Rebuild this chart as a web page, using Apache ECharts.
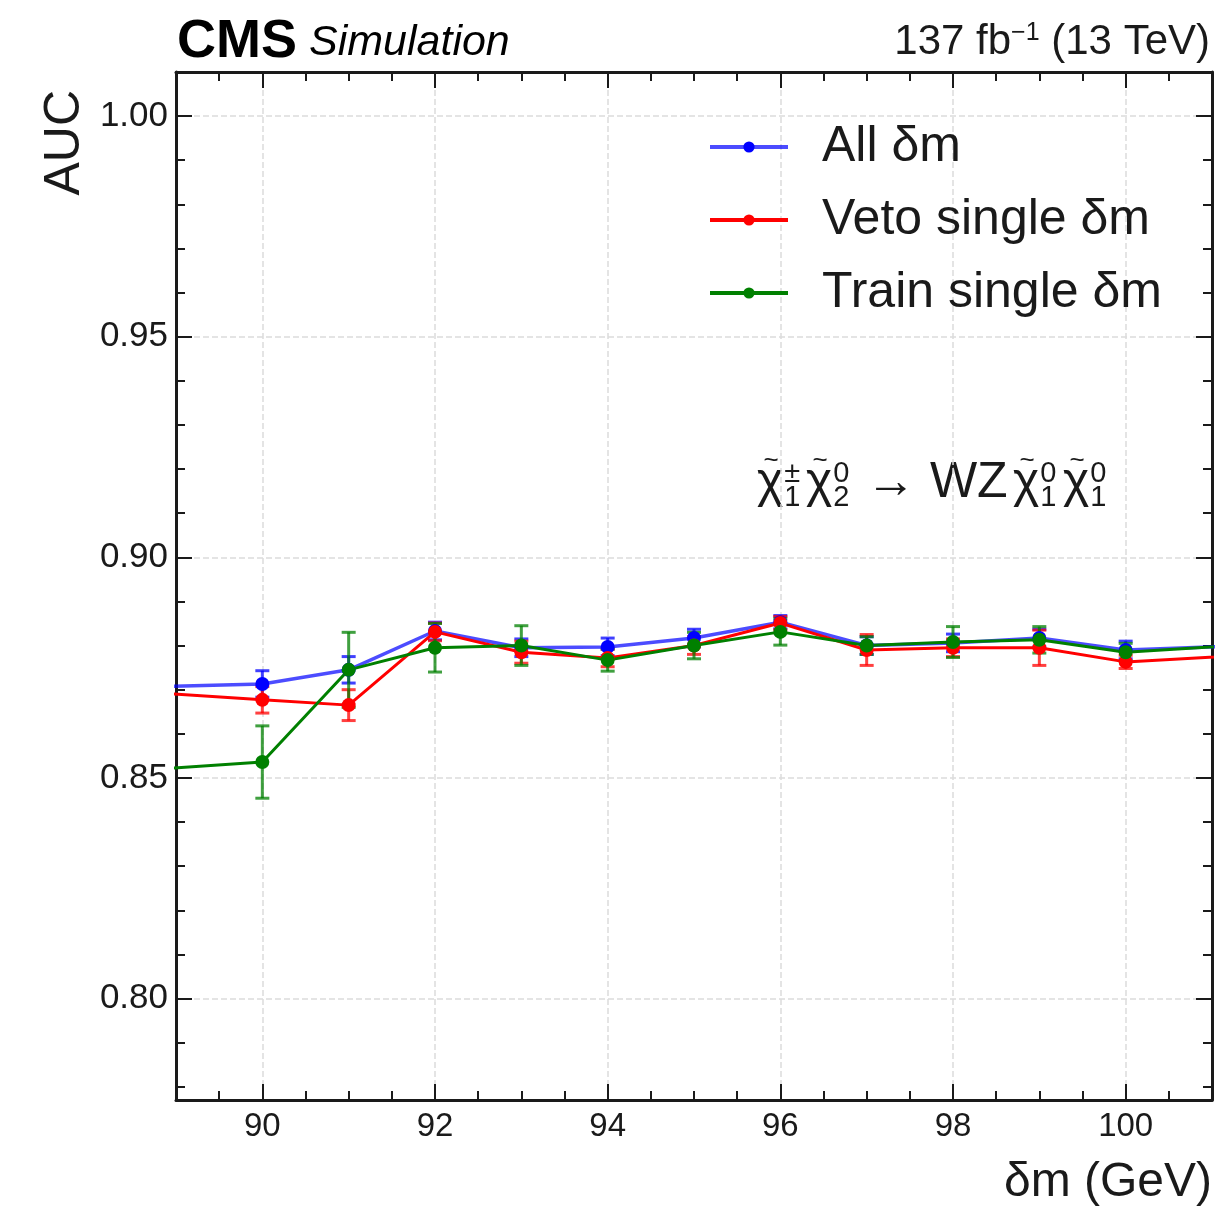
<!DOCTYPE html>
<html>
<head>
<meta charset="utf-8">
<script src="https://cdn.jsdelivr.net/npm/echarts@6/dist/echarts.min.js"></script>
<style>
html, body { margin: 0; padding: 0; background: #fff; }
#chart { width: 1215px; height: 1208px; }
</style>
</head>
<body>
<div id="chart"></div>
<script>
// delta m points (88 and 102 lie outside the view, only their line segments show)
const deltaM = [88, 90, 91, 92, 93, 94, 95, 96, 97, 98, 99, 100, 102];

const aucAll   = [0.8703, 0.8713, 0.8745, 0.8833, 0.8795, 0.8797, 0.8817, 0.8853, 0.8800, 0.8806, 0.8817, 0.8790, 0.8804];
const aucVeto  = [0.8703, 0.8677, 0.8665, 0.8831, 0.8785, 0.8772, 0.8800, 0.8851, 0.8790, 0.8795, 0.8795, 0.8763, 0.8785];
const aucTrain = [0.8510, 0.8536, 0.8745, 0.8795, 0.8800, 0.8767, 0.8800, 0.8831, 0.8800, 0.8808, 0.8813, 0.8785, 0.8809];

const errAll   = [null, 0.0030, 0.0030, 0.0020, 0.0020, 0.0020, 0.0020, 0.0015, 0.0020, 0.0020, 0.0020, 0.0020, null];
const errVeto  = [null, 0.0030, 0.0035, 0.0020, 0.0025, 0.0020, 0.0020, 0.0015, 0.0035, 0.0020, 0.0040, 0.0015, null];
const errTrain = [null, 0.0082, 0.0085, 0.0055, 0.0045, 0.0025, 0.0030, 0.0030, 0.0020, 0.0035, 0.0030, 0.0020, null];

const xMajorTicks = [90, 92, 94, 96, 98, 100];
const yMajorTicks = [0.80, 0.85, 0.90, 0.95, 1.00];

const xRange = [89, 101];
const yRange = [0.777, 1.01];

const FONT = '"Liberation Sans", Arial, Helvetica, sans-serif';
const INK = '#1a1a1a';

// minor ticks: x every 0.5, y every 0.01, skipping the major ones
function minorTicks(lo, hi, step, majors) {
  const out = [];
  const n = Math.round((hi - lo) / step);
  for (let i = 0; i <= n; i++) {
    const v = +(lo + i * step).toFixed(4);
    if (v <= lo || v >= hi) continue;
    if (majors.some(m => Math.abs(m - v) < 1e-6)) continue;
    out.push(v);
  }
  return out;
}
const xMinorTicks = minorTicks(xRange[0], xRange[1], 0.5, xMajorTicks);
const yMinorTicks = minorTicks(0.77, 1.01, 0.01, yMajorTicks);

function axisCommon(range, ticks, tickLen, showLine) {
  return {
    type: 'value',
    min: range[0],
    max: range[1],
    axisLine: { show: showLine, onZero: false, lineStyle: { color: INK, width: 3 } },
    axisTick: { show: true, inside: true, length: tickLen, customValues: ticks, lineStyle: { color: INK, width: 2 } },
    axisLabel: { show: false },
    splitLine: { show: false }
  };
}

const xAxes = [
  Object.assign(axisCommon(xRange, xMajorTicks, 16, true), {
    position: 'bottom',
    axisLabel: {
      show: true, customValues: xMajorTicks, margin: 10,
      fontSize: 33, fontFamily: FONT, color: INK,
      formatter: v => String(Math.round(v))
    },
    splitLine: { show: true, lineStyle: { color: '#dcdcdc', width: 1.5, type: 'dashed' } }
  }),
  Object.assign(axisCommon(xRange, xMinorTicks, 9, false), { position: 'bottom' }),
  Object.assign(axisCommon(xRange, xMajorTicks, 16, true), { position: 'top' }),
  Object.assign(axisCommon(xRange, xMinorTicks, 9, false), { position: 'top' })
];

const yAxes = [
  Object.assign(axisCommon(yRange, yMajorTicks, 16, true), {
    position: 'left',
    axisLabel: {
      show: true, customValues: yMajorTicks, margin: 8,
      fontSize: 35, fontFamily: FONT, color: INK,
      formatter: v => v.toFixed(2)
    },
    splitLine: { show: true, lineStyle: { color: '#dcdcdc', width: 1.5, type: 'dashed' } }
  }),
  Object.assign(axisCommon(yRange, yMinorTicks, 9, false), { position: 'left' }),
  Object.assign(axisCommon(yRange, yMajorTicks, 16, true), { position: 'right' }),
  Object.assign(axisCommon(yRange, yMinorTicks, 9, false), { position: 'right' })
];

function lineSeries(name, values, color, lineColor, width) {
  return {
    type: 'line',
    name: name,
    xAxisIndex: 0,
    yAxisIndex: 0,
    data: deltaM.map((x, i) => [x, values[i]]),
    symbol: 'circle',
    symbolSize: 14,
    clip: true,
    itemStyle: { color: color },
    lineStyle: { color: lineColor, width: width },
    emphasis: { disabled: true }
  };
}

function errorSeries(name, values, errs, color) {
  const data = [];
  deltaM.forEach((x, i) => {
    if (errs[i] != null) data.push([x, values[i] - errs[i], values[i] + errs[i]]);
  });
  return {
    type: 'custom',
    name: name,
    xAxisIndex: 0,
    yAxisIndex: 0,
    clip: true,
    silent: true,
    encode: { x: 0, y: [1, 2] },
    data: data,
    renderItem: (params, api) => {
      const lo = api.coord([api.value(0), api.value(1)]);
      const hi = api.coord([api.value(0), api.value(2)]);
      const cap = 7;
      const style = { stroke: color, lineWidth: 3 };
      return {
        type: 'group',
        children: [
          { type: 'line', shape: { x1: lo[0], y1: lo[1], x2: hi[0], y2: hi[1] }, style: style },
          { type: 'line', shape: { x1: lo[0] - cap, y1: lo[1], x2: lo[0] + cap, y2: lo[1] }, style: style },
          { type: 'line', shape: { x1: hi[0] - cap, y1: hi[1], x2: hi[0] + cap, y2: hi[1] }, style: style }
        ]
      };
    }
  };
}

// process label pieces: base glyph (tilde on top when neutralino/chargino) with stacked sup / sub
const reaction = [
  { x: 757, base: 'χ', tilde: true, sup: '±', sub: '1' },
  { x: 806, base: 'χ', tilde: true, sup: '0', sub: '2' },
  { x: 866, base: '→ WZ' },
  { x: 1013, base: 'χ', tilde: true, sup: '0', sub: '1' },
  { x: 1063, base: 'χ', tilde: true, sup: '0', sub: '1' }
];

function reactionGraphics() {
  const out = [];
  const baseY = 508;
  const ctx = document.createElement('canvas').getContext('2d');
  ctx.font = '50px ' + FONT;
  reaction.forEach(p => {
    out.push({
      type: 'text', x: p.x, y: baseY,
      style: { text: p.base, font: '50px ' + FONT, fill: INK, align: 'left', verticalAlign: 'bottom' }
    });
    if (p.tilde) {
      const w = ctx.measureText(p.base).width;
      out.push({
        type: 'text', x: p.x + w / 2 + 1, y: 461,
        style: { text: '~', font: '26px ' + FONT, fill: INK, align: 'center', verticalAlign: 'middle' }
      });
      out.push({
        type: 'text', x: p.x + w + 1, y: 459,
        style: { text: p.sup, font: '29px ' + FONT, fill: INK, align: 'left', verticalAlign: 'top' }
      });
      out.push({
        type: 'text', x: p.x + w + 1, y: baseY + 4,
        style: { text: p.sub, font: '29px ' + FONT, fill: INK, align: 'left', verticalAlign: 'bottom' }
      });
    }
  });
  return out;
}

const chart = echarts.init(document.getElementById('chart'), null, { renderer: 'canvas' });

chart.setOption({
  animation: false,
  backgroundColor: '#ffffff',
  grid: { left: 176, right: 3, top: 72, bottom: 108, containLabel: false },
  xAxis: xAxes,
  yAxis: yAxes,
  legend: {
    left: 703,
    top: 117,
    orient: 'vertical',
    itemWidth: 78,
    itemHeight: 14,
    itemGap: 23,
    data: ['All δm', 'Veto single δm', 'Train single δm'],
    lineStyle: { width: 4 },
    textStyle: { fontSize: 50, fontFamily: FONT, color: INK, padding: [0, 0, 0, 29] },
    selectedMode: false
  },
  series: [
    errorSeries('All δm err', aucAll, errAll, 'rgba(0,0,255,0.75)'),
    lineSeries('All δm', aucAll, '#0000ff', 'rgba(0,0,255,0.7)', 3.5),
    errorSeries('Veto single δm err', aucVeto, errVeto, 'rgba(255,0,0,0.75)'),
    lineSeries('Veto single δm', aucVeto, '#ff0000', '#ff0000', 3),
    errorSeries('Train single δm err', aucTrain, errTrain, 'rgba(0,128,0,0.75)'),
    lineSeries('Train single δm', aucTrain, '#008000', '#008000', 3)
  ],
  graphic: [
    { type: 'text', x: 177, y: 42, style: { text: 'CMS', font: 'bold 54px ' + FONT, fill: '#000', align: 'left', verticalAlign: 'middle' } },
    { type: 'text', x: 309, y: 43, style: { text: 'Simulation', font: 'italic 43px ' + FONT, fill: '#000', align: 'left', verticalAlign: 'middle' } },
    {
      type: 'text', x: 1210, y: 42,
      style: {
        text: '137 fb{sup|−1} (13 TeV)',
        font: '42px ' + FONT, fill: INK, align: 'right', verticalAlign: 'middle',
        rich: { sup: { fontSize: 25, fontFamily: FONT, verticalAlign: 'top', fill: INK } }
      }
    },
    { type: 'text', x: 65, y: 90, rotation: Math.PI / 2, style: { text: 'AUC', font: '50px ' + FONT, fill: INK, align: 'right', verticalAlign: 'middle' } },
    { type: 'text', x: 1212, y: 1183, style: { text: 'δm (GeV)', font: '48px ' + FONT, fill: INK, align: 'right', verticalAlign: 'middle' } }
  ].concat(reactionGraphics())
});
</script>
</body>
</html>
